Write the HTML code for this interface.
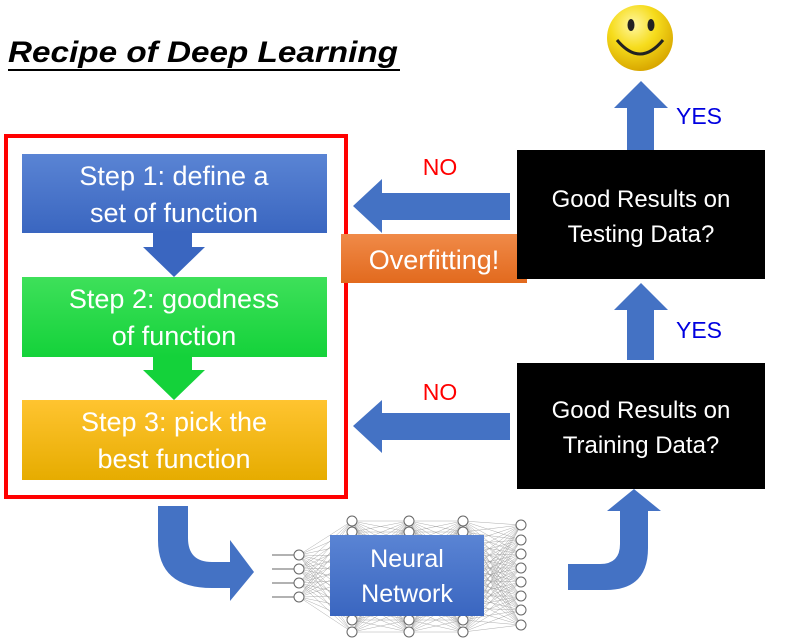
<!DOCTYPE html>
<html><head><meta charset="utf-8"><style>
html,body{margin:0;padding:0;background:#fff;}
svg{display:block;}
text{font-family:"Liberation Sans",sans-serif;}
</style></head><body>
<svg id="s" width="798" height="643" viewBox="0 0 798 643" xmlns="http://www.w3.org/2000/svg">
<defs>
<linearGradient id="g1" x1="0" y1="0" x2="0" y2="1"><stop offset="0" stop-color="#5a84d4"/><stop offset="1" stop-color="#3a66c0"/></linearGradient>
<linearGradient id="g2" x1="0" y1="0" x2="0" y2="1"><stop offset="0" stop-color="#3ee05a"/><stop offset="1" stop-color="#14d23a"/></linearGradient>
<linearGradient id="g3" x1="0" y1="0" x2="0" y2="1"><stop offset="0" stop-color="#ffc430"/><stop offset="1" stop-color="#e6ac00"/></linearGradient>
<linearGradient id="go" x1="0" y1="0" x2="0" y2="1"><stop offset="0" stop-color="#f08a48"/><stop offset="1" stop-color="#e26a1e"/></linearGradient>
<radialGradient id="gs" cx="0.4" cy="0.3" r="0.7"><stop offset="0" stop-color="#fff7a0"/><stop offset="0.5" stop-color="#f6dc1c"/><stop offset="1" stop-color="#d9a800"/></radialGradient>
</defs>
<text x="8" y="62" font-size="30" font-weight="bold" font-style="italic" fill="#000" textLength="390" lengthAdjust="spacingAndGlyphs">Recipe of Deep Learning</text>
<line x1="8" y1="70" x2="400" y2="70" stroke="#000" stroke-width="2"/>

<rect x="6" y="136" width="340" height="361" fill="none" stroke="#f00" stroke-width="4"/>
<rect x="22" y="154" width="305" height="79" fill="url(#g1)"/>
<text x="174" y="185" font-size="27" fill="#fff" text-anchor="middle">Step 1: define a</text>
<text x="174" y="222" font-size="27" fill="#fff" text-anchor="middle">set of function</text>
<polygon points="153,233 192,233 192,247 205,247 174,277 143,247 153,247" fill="#3a66c0"/>
<rect x="22" y="277" width="305" height="80" fill="url(#g2)"/>
<text x="174" y="308" font-size="27" fill="#fff" text-anchor="middle">Step 2: goodness</text>
<text x="174" y="345" font-size="27" fill="#fff" text-anchor="middle">of function</text>
<polygon points="153,357 192,357 192,370 205,370 174,400 143,370 153,370" fill="#14d23a"/>
<rect x="22" y="400" width="305" height="80" fill="url(#g3)"/>
<text x="174" y="431" font-size="27" fill="#fff" text-anchor="middle">Step 3: pick the</text>
<text x="174" y="468" font-size="27" fill="#fff" text-anchor="middle">best function</text>

<polygon points="510,193 382,193 382,179 353,206 382,233 382,220 510,220" fill="#4472c4"/>
<polygon points="510,413 382,413 382,400 353,426 382,453 382,440 510,440" fill="#4472c4"/>
<text x="440" y="175" font-size="23" fill="#f00" text-anchor="middle">NO</text>
<text x="440" y="400" font-size="23" fill="#f00" text-anchor="middle">NO</text>
<rect x="341" y="234" width="186" height="49" fill="url(#go)"/>
<text x="434" y="269" font-size="27" fill="#fff" text-anchor="middle">Overfitting!</text>

<rect x="517" y="150" width="248" height="129" fill="#000"/>
<text x="641" y="207" font-size="24" fill="#fff" text-anchor="middle">Good Results on</text>
<text x="641" y="242" font-size="24" fill="#fff" text-anchor="middle">Testing Data?</text>
<rect x="517" y="363" width="248" height="126" fill="#000"/>
<text x="641" y="418" font-size="24" fill="#fff" text-anchor="middle">Good Results on</text>
<text x="641" y="453" font-size="24" fill="#fff" text-anchor="middle">Training Data?</text>

<polygon points="627,150 654,150 654,108 668,108 641,81 614,108 627,108" fill="#4472c4"/>
<polygon points="627,360 654,360 654,310 668,310 641,283 614,310 627,310" fill="#4472c4"/>
<text x="676" y="124" font-size="23" fill="#0000e0">YES</text>
<text x="676" y="338" font-size="23" fill="#0000e0">YES</text>

<circle cx="640" cy="38" r="33" fill="url(#gs)"/>
<ellipse cx="631" cy="25" rx="3.5" ry="6" fill="#222"/>
<ellipse cx="651" cy="25" rx="3.5" ry="6" fill="#222"/>
<path d="M617,40 Q640,68 663,40" fill="none" stroke="#222" stroke-width="3"/>

<path d="M158,506 L188,506 L188,538 Q188,562 212,562 L230,562 L230,540 L254,572 L230,601 L230,588 L212,588 Q158,588 158,540 Z" fill="#4472c4"/>
<path d="M568,564 L600,564 Q620,564 620,544 L620,511 L607,511 L634,489 L661,511 L648,511 L648,548 Q648,590 606,590 L568,590 Z" fill="#4472c4"/>

<g id="nnl" stroke="#999" stroke-width="0.4"></g>
<g id="nnc" fill="#fff" stroke="#666" stroke-width="1"></g>
<g stroke="#666" stroke-width="1"><line x1="272" y1="555" x2="294" y2="555"/><line x1="272" y1="569" x2="294" y2="569"/><line x1="272" y1="583" x2="294" y2="583"/><line x1="272" y1="597" x2="294" y2="597"/></g>
<rect x="330" y="535" width="154" height="81" fill="url(#g1)"/>
<text x="407" y="567" font-size="25" fill="#fff" text-anchor="middle">Neural</text>
<text x="407" y="602" font-size="25" fill="#fff" text-anchor="middle">Network</text>
</svg>
<script>
(function(){
var ns="http://www.w3.org/2000/svg";
var cols=[[299,[555,569,583,597]]];
var hid=[521,532,544,556,568,580,596,608,620,632];
[352,409,463].forEach(function(x){cols.push([x,hid]);});
cols.push([521,[525,540,554,568,582,596,610,625]]);
var L=document.getElementById("nnl"),C=document.getElementById("nnc");
for(var i=0;i<cols.length-1;i++){
 cols[i][1].forEach(function(a){cols[i+1][1].forEach(function(b){
  var l=document.createElementNS(ns,"line");
  l.setAttribute("x1",cols[i][0]);l.setAttribute("y1",a);l.setAttribute("x2",cols[i+1][0]);l.setAttribute("y2",b);L.appendChild(l);});});
}
cols.forEach(function(c){c[1].forEach(function(y){
 var e=document.createElementNS(ns,"circle");e.setAttribute("cx",c[0]);e.setAttribute("cy",y);e.setAttribute("r",5);C.appendChild(e);});});
})();
</script>
</body></html>
